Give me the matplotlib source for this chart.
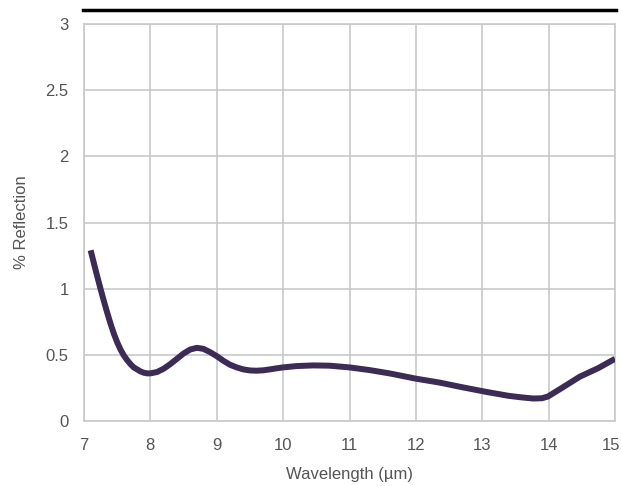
import matplotlib
matplotlib.use("Agg")
import matplotlib.pyplot as plt
import matplotlib.transforms as mtransforms
from matplotlib.lines import Line2D

# Reflection curve
wavelength = [7.10, 7.15, 7.20, 7.25, 7.30, 7.35, 7.40, 7.45, 7.50, 7.55, 7.60, 7.65,
              7.70, 7.75, 7.80, 7.85, 7.90, 7.95, 8.00, 8.10, 8.20, 8.30, 8.40, 8.50,
              8.60, 8.70, 8.80, 8.90, 9.00, 9.10, 9.20, 9.30, 9.40, 9.50, 9.60, 9.70,
              9.80, 9.90, 10.00, 10.20, 10.45, 10.70, 11.00, 11.30, 11.60, 12.00,
              12.36, 12.70, 13.06, 13.40, 13.60, 13.77, 13.90, 13.99, 14.20, 14.47,
              14.75, 15.00]
reflection = [1.29, 1.19, 1.092, 0.997, 0.905, 0.818, 0.735, 0.66, 0.595, 0.54, 0.495, 0.46,
              0.43, 0.405, 0.39, 0.375, 0.365, 0.36, 0.36, 0.37, 0.395, 0.43, 0.47, 0.51,
              0.54, 0.553, 0.545, 0.52, 0.49, 0.455, 0.425, 0.405, 0.39, 0.382, 0.38, 0.383,
              0.39, 0.398, 0.405, 0.415, 0.42, 0.418, 0.405, 0.385, 0.36, 0.32,
              0.29, 0.255, 0.22, 0.19, 0.178, 0.17, 0.172, 0.185, 0.25, 0.335,
              0.40, 0.47]

xticks = [7, 8, 9, 10, 11, 12, 13, 14, 15]
yticks = [0, 0.5, 1, 1.5, 2, 2.5, 3]
ytick_labels = ["0", "0.5", "1", "1.5", "2", "2.5", "3"]

plt.rcParams["font.family"] = ["Liberation Sans", "DejaVu Sans"]
text_color = "#555555"
grid_color = "#c8c9cb"

fig = plt.figure(figsize=(6.22, 4.86), dpi=100)
ax = fig.add_axes([84 / 622, 1 - 421 / 486, (615 - 84) / 622, (421 - 24) / 486])

ax.plot(wavelength, reflection, color="#3b2b55", linewidth=4.3,
        solid_capstyle="butt", solid_joinstyle="round", zorder=3)

ax.set_xlim(7, 15)
ax.set_ylim(0, 3)
ax.set_xticks(xticks)
ax.set_yticks(yticks)
ax.set_yticklabels(ytick_labels)
ax.grid(True, color=grid_color, linewidth=1.2)
ax.tick_params(length=0, labelsize=12, colors=text_color)
ax.tick_params(axis="y", pad=11)
ax.tick_params(axis="x", pad=12)
for s in ax.spines.values():
    s.set_color(grid_color)
    s.set_linewidth(1.2)

# keep the last x label inside the canvas
last = ax.get_xticklabels()[-1]
last.set_transform(last.get_transform() +
                   mtransforms.ScaledTranslation(-4 / 100, 0, fig.dpi_scale_trans))

ax.set_xlabel("Wavelength (µm)", fontsize=12, color=text_color, labelpad=10)
ax.set_ylabel("% Reflection", fontsize=12, color=text_color, labelpad=12)

# thick black rule above the plot
fig.add_artist(Line2D([83 / 622, 616 / 622], [1 - 10 / 486, 1 - 10 / 486],
                      color="black", linewidth=2.5))

fig.savefig("out.png", dpi=100)
